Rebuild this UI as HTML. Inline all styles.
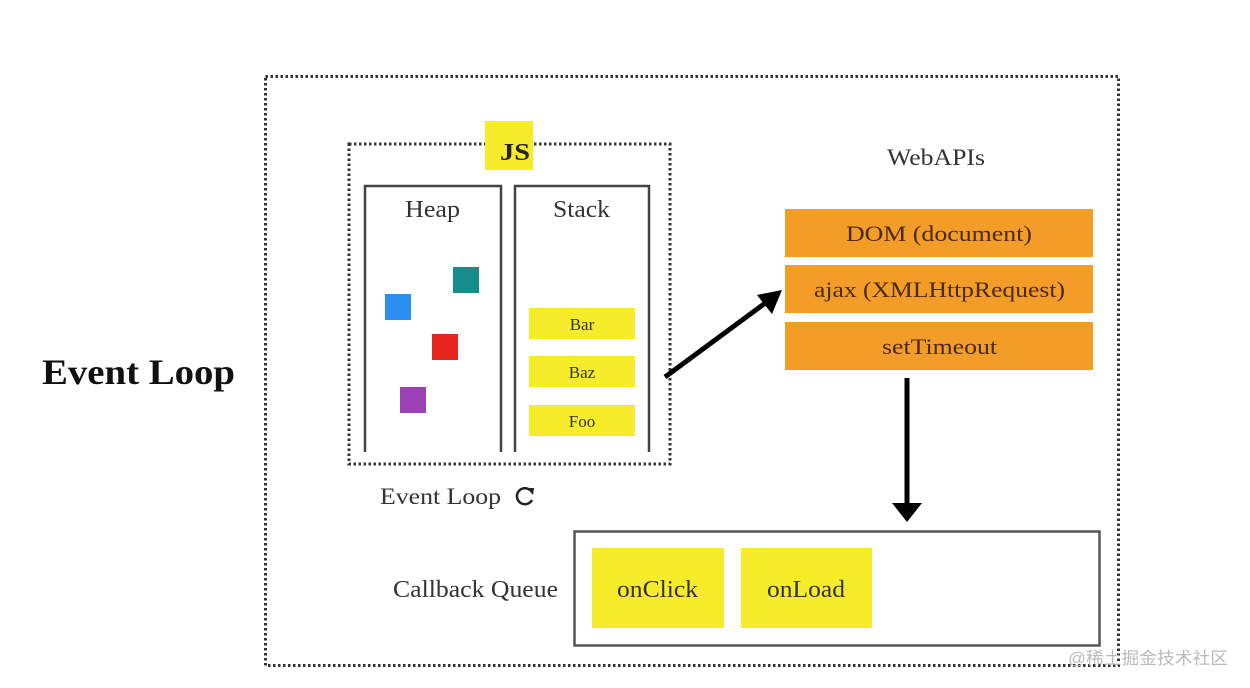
<!DOCTYPE html>
<html><head><meta charset="utf-8"><style>
html,body{margin:0;padding:0;background:#fff;}
svg{display:block;}
text{font-family:"Liberation Serif","Noto Serif CJK SC",serif;}
</style></head><body>
<svg width="1250" height="688" viewBox="0 0 1250 688" xmlns="http://www.w3.org/2000/svg">
<rect width="1250" height="688" fill="#fff"/>
<text x="42" y="384" font-size="36" font-weight="bold" fill="#111" textLength="193" lengthAdjust="spacingAndGlyphs">Event Loop</text>
<rect x="265.5" y="76.5" width="853" height="589" fill="none" stroke="#333" stroke-width="3" stroke-dasharray="2.5 2.5"/>
<rect x="349" y="144" width="321" height="320" fill="none" stroke="#333" stroke-width="3" stroke-dasharray="2.5 2.5"/>
<rect x="485" y="121" width="48" height="49" fill="#f7ec2a"/>
<text x="500" y="160" font-size="24" font-weight="bold" fill="#222" textLength="30" lengthAdjust="spacingAndGlyphs">JS</text>
<path d="M365 452 V186 H501 V452" fill="none" stroke="#444" stroke-width="2.5"/>
<path d="M515 452 V186 H649 V452" fill="none" stroke="#444" stroke-width="2.5"/>
<text x="405" y="217" font-size="24" fill="#333" textLength="55" lengthAdjust="spacingAndGlyphs">Heap</text>
<text x="553" y="217" font-size="24" fill="#333" textLength="57" lengthAdjust="spacingAndGlyphs">Stack</text>
<rect x="453" y="267" width="26" height="26" fill="#168c8a"/>
<rect x="385" y="294" width="26" height="26" fill="#2b8ff0"/>
<rect x="432" y="334" width="26" height="26" fill="#e8261f"/>
<rect x="400" y="387" width="26" height="26" fill="#9a3fb4"/>
<rect x="529" y="308" width="106" height="31" fill="#f7ec2a"/>
<rect x="529" y="356" width="106" height="31" fill="#f7ec2a"/>
<rect x="529" y="405" width="106" height="31" fill="#f7ec2a"/>
<text x="582" y="330" font-size="17" text-anchor="middle" fill="#333">Bar</text>
<text x="582" y="378" font-size="17" text-anchor="middle" fill="#333">Baz</text>
<text x="582" y="427" font-size="17" text-anchor="middle" fill="#333">Foo</text>
<text x="380" y="504" font-size="23" fill="#333" textLength="121" lengthAdjust="spacingAndGlyphs">Event Loop</text>
<path d="M530 490 A8 8 0 1 0 532 500" fill="none" stroke="#222" stroke-width="2.5"/>
<path d="M527 488 L534 488 L533 495 Z" fill="#222"/>
<text x="887" y="165" font-size="23" fill="#333" textLength="98" lengthAdjust="spacingAndGlyphs">WebAPIs</text>
<rect x="785" y="209" width="308" height="48" fill="#f39c27"/>
<rect x="785" y="265" width="308" height="48" fill="#f39c27"/>
<rect x="785" y="322" width="308" height="48" fill="#f39c27"/>
<text x="846" y="241" font-size="22" fill="#4a2a10" textLength="186" lengthAdjust="spacingAndGlyphs">DOM (document)</text>
<text x="814" y="297" font-size="22" fill="#4a2a10" textLength="251" lengthAdjust="spacingAndGlyphs">ajax (XMLHttpRequest)</text>
<text x="882" y="354" font-size="22" fill="#4a2a10" textLength="115" lengthAdjust="spacingAndGlyphs">setTimeout</text>
<line x1="665" y1="377" x2="768" y2="301" stroke="#000" stroke-width="5"/>
<path d="M782 290 L757 295 L772 314 Z" fill="#000"/>
<line x1="907" y1="378" x2="907" y2="505" stroke="#000" stroke-width="5"/>
<path d="M892 503 L922 503 L907 522 Z" fill="#000"/>
<rect x="574.5" y="531.5" width="525" height="114" fill="none" stroke="#555" stroke-width="2.5"/>
<rect x="592" y="548" width="132" height="80" fill="#f7ec2a"/>
<rect x="741" y="548" width="131" height="80" fill="#f7ec2a"/>
<text x="617" y="597" font-size="24" fill="#333" textLength="81" lengthAdjust="spacingAndGlyphs">onClick</text>
<text x="767" y="597" font-size="24" fill="#333" textLength="78" lengthAdjust="spacingAndGlyphs">onLoad</text>
<text x="393" y="597" font-size="24" fill="#333" textLength="165" lengthAdjust="spacingAndGlyphs">Callback Queue</text>
<text x="1068" y="664" font-size="17" fill="#bbb" textLength="160" lengthAdjust="spacingAndGlyphs" style="font-family:'Liberation Sans','Noto Sans CJK SC',sans-serif">@稀土掘金技术社区</text>
</svg>
</body></html>
